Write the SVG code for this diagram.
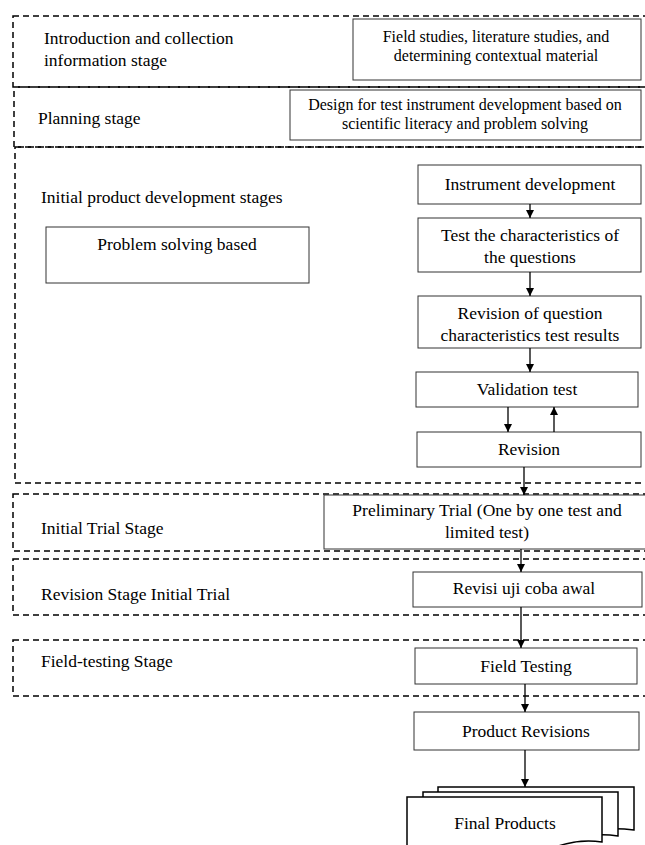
<svg xmlns="http://www.w3.org/2000/svg" width="645" height="845" viewBox="0 0 645 845">
<defs>
<style>
.zone{fill:none;stroke:#000;stroke-width:1.5;stroke-dasharray:6,4}
.box{fill:#fff;stroke:#333;stroke-width:1}
.t{font-family:"Liberation Serif","Times New Roman",serif;font-size:17.5px;fill:#000}
.s{font-size:16px}
.c{text-anchor:middle}
.conn{stroke:#000;stroke-width:1.3;fill:none}
</style>
<marker id="ah" viewBox="0 0 10 10" refX="10" refY="5" markerWidth="8" markerHeight="8" markerUnits="userSpaceOnUse" orient="auto">
<path d="M0,0 L10,5 L0,10 z" fill="#000"/>
</marker>
</defs>
<rect width="645" height="845" fill="#fff"/>

<g id="zone-intro">
<rect class="zone" x="13" y="16" width="660" height="71"/>
<text class="t" x="44" y="44">Introduction and collection</text>
<text class="t" x="44" y="66">information stage</text>
</g>
<g id="zone-planning">
<rect class="zone" x="14" y="87" width="660" height="60"/>
<text class="t" x="38" y="124">Planning stage</text>
</g>
<g id="zone-initial-dev">
<rect class="zone" x="15" y="147" width="660" height="336"/>
<text class="t" x="41" y="203">Initial product development stages</text>
</g>
<g id="zone-initial-trial">
<rect class="zone" x="13" y="494" width="660" height="57"/>
<text class="t" x="41" y="534">Initial Trial Stage</text>
</g>
<g id="zone-revision-stage">
<rect class="zone" x="13" y="559" width="660" height="56"/>
<text class="t" x="41" y="600">Revision Stage Initial Trial</text>
</g>
<g id="zone-field">
<rect class="zone" x="13" y="640" width="660" height="56"/>
<text class="t" x="41" y="667">Field-testing Stage</text>
</g>

<g id="field-studies">
<rect class="box" x="353" y="19" width="288" height="61"/>
<text class="t s c" x="496" y="42">Field studies, literature studies, and</text>
<text class="t s c" x="496" y="61">determining contextual material</text>
</g>
<g id="design">
<rect class="box" x="290" y="90" width="351" height="50"/>
<text class="t s c" x="465" y="110">Design for test instrument development based on</text>
<text class="t s c" x="465" y="129">scientific literacy and problem solving</text>
</g>
<g id="problem-solving">
<rect class="box" x="46" y="227" width="263" height="56"/>
<text class="t c" x="177" y="250">Problem solving based</text>
</g>
<g id="instrument-dev">
<rect class="box" x="418" y="165" width="223" height="39"/>
<text class="t c" x="530" y="190">Instrument development</text>
</g>
<g id="test-char">
<rect class="box" x="418" y="218" width="223" height="54"/>
<text class="t c" x="530" y="241">Test the characteristics of</text>
<text class="t c" x="530" y="263">the questions</text>
</g>
<g id="revision-char">
<rect class="box" x="418" y="296" width="223" height="52"/>
<text class="t c" x="530" y="319">Revision of question</text>
<text class="t c" x="530" y="341">characteristics test results</text>
</g>
<g id="validation">
<rect class="box" x="416" y="372" width="222" height="35"/>
<text class="t c" x="527" y="395">Validation test</text>
</g>
<g id="revision">
<rect class="box" x="417" y="432" width="224" height="35"/>
<text class="t c" x="529" y="455">Revision</text>
</g>
<g id="preliminary">
<rect class="box" x="324" y="495" width="331" height="54"/>
<text class="t c" x="487" y="516">Preliminary Trial (One by one test and</text>
<text class="t c" x="487" y="538">limited test)</text>
</g>
<g id="revisi">
<rect class="box" x="413" y="572" width="229" height="35"/>
<text class="t c" x="524" y="594">Revisi uji coba awal</text>
</g>
<g id="field-testing">
<rect class="box" x="415" y="648" width="222" height="36"/>
<text class="t c" x="526" y="672">Field Testing</text>
</g>
<g id="product-revisions">
<rect class="box" x="414" y="712" width="225" height="38"/>
<text class="t c" x="526" y="737">Product Revisions</text>
</g>
<g id="final-products">
<path d="M438,787 H634 V830 Q600,826 575,836 H438 Z" fill="#fff" stroke="#000" stroke-width="1.5"/>
<path d="M423,792 H618 V836 Q590,832 565,842 H423 Z" fill="#fff" stroke="#000" stroke-width="1.5"/>
<path d="M407,797 H602 V842 Q575,838 548,850 H407 Z" fill="#fff" stroke="#000" stroke-width="1.5"/>
<text class="t c" x="505" y="829">Final Products</text>
</g>

<g id="connectors">
<line class="conn" x1="530" y1="204" x2="530" y2="218" marker-end="url(#ah)"/>
<line class="conn" x1="530" y1="272" x2="530" y2="296" marker-end="url(#ah)"/>
<line class="conn" x1="530" y1="348" x2="530" y2="372" marker-end="url(#ah)"/>
<line class="conn" x1="508" y1="407" x2="508" y2="432" marker-end="url(#ah)"/>
<line class="conn" x1="554" y1="432" x2="554" y2="407" marker-end="url(#ah)"/>
<line class="conn" x1="524" y1="467" x2="524" y2="495" marker-end="url(#ah)"/>
<line class="conn" x1="521" y1="549" x2="521" y2="572" marker-end="url(#ah)"/>
<line class="conn" x1="521" y1="607" x2="521" y2="648" marker-end="url(#ah)"/>
<line class="conn" x1="525" y1="684" x2="525" y2="712" marker-end="url(#ah)"/>
<line class="conn" x1="525" y1="750" x2="525" y2="787" marker-end="url(#ah)"/>
</g>
</svg>
